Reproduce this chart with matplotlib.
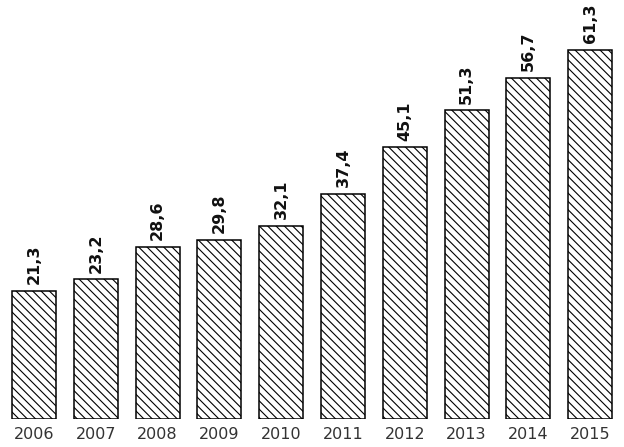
import matplotlib as mpl
mpl.use("Agg")
import matplotlib.pyplot as plt

YEARS = ["2006", "2007", "2008", "2009", "2010", "2011", "2012", "2013", "2014", "2015"]
VALUES = [21.3, 23.2, 28.6, 29.8, 32.1, 37.4, 45.1, 51.3, 56.7, 61.3]
LABELS = ["21,3", "23,2", "28,6", "29,8", "32,1", "37,4", "45,1", "51,3", "56,7", "61,3"]

mpl.rcParams["hatch.linewidth"] = 0.8
mpl.rcParams["font.family"] = ["DejaVu Sans"]

fig = plt.figure(figsize=(6.24, 4.47), dpi=100)
ax = fig.add_axes([0, 28 / 447, 1, 1 - 28 / 447])
x = list(range(len(YEARS)))
ax.bar(x, VALUES, width=0.712, color="white", edgecolor="black",
       linewidth=1.1, hatch="\\\\\\\\")
for xi, v, lab in zip(x, VALUES, LABELS):
    ax.text(xi, v + 1.1, lab, rotation=90, ha="center", va="bottom",
            fontsize=11.5, fontweight="bold", color="#111111")
ax.set_xlim(-0.55, 9.547)
ax.set_ylim(0, 69.6)
ax.set_xticks(x)
ax.set_xticklabels(YEARS, fontsize=11.5, color="#333333")
ax.tick_params(length=0, pad=6)
ax.set_yticks([])
for s in ax.spines.values():
    s.set_visible(False)
fig.savefig("out.png", dpi=100)
